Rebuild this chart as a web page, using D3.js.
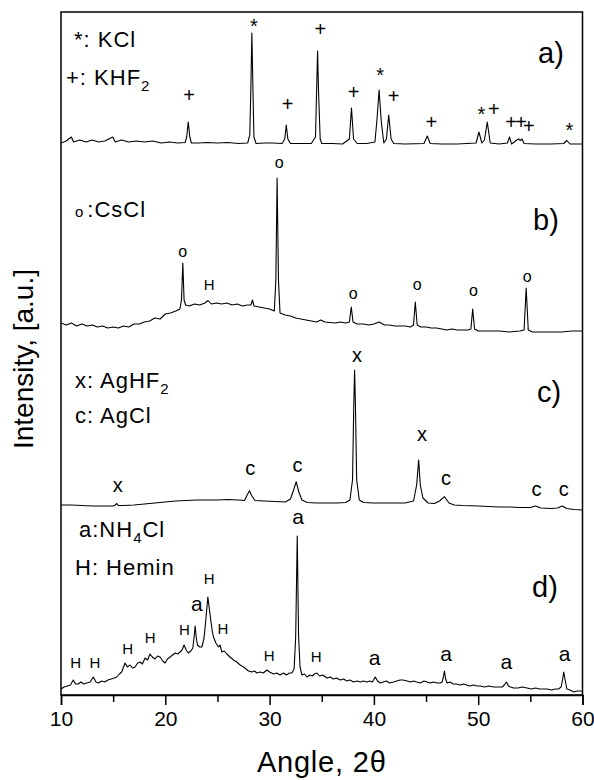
<!DOCTYPE html>
<html><head><meta charset="utf-8">
<script src="https://cdn.jsdelivr.net/npm/d3@7"></script>
<style>
body{margin:0;background:#fff}
text{font-family:"Liberation Sans",Arial,Helvetica,sans-serif;fill:#000}
</style>
</head><body>
<svg id="chart" width="594" height="780"></svg>
<script>
// ---------- data (angle 2θ, intensity a.u.) ----------
const xMajorTicks = [10, 20, 30, 40, 50, 60];
const xMinorTicks = [15, 25, 35, 45, 55];
const panelNames = ["a)", "b)", "c)", "d)"];
const panelOffsets = [548, 360, 180, 0];

const traceA = [[10,6],[10.5,8],[11,12],[11.2,7],[11.8,9],[12.4,7],[13,9],[13.6,7],[14.2,8],[14.96,12],[15.2,7],[15.8,9],[16.5,7],[17.2,8],[18,7],[18.8,8],[19.6,6],[20.4,7],[21.2,6],[21.9,6.5],[22.05,12],[22.2,27],[22.35,12],[22.5,6],[23.2,6],[24,6.5],[25,6],[26,6.5],[27,5.5],[27.9,6],[28.1,14],[28.2,60],[28.3,116],[28.4,60],[28.5,12],[28.7,5.5],[29.5,6],[30.3,6],[31.2,5.5],[31.45,10],[31.6,24],[31.75,10],[32,5.5],[33,5.5],[34,5.5],[34.4,12],[34.5,55],[34.6,98],[34.7,55],[34.85,10],[35,5.5],[36,5.5],[37,5],[37.65,10],[37.85,41],[38.05,10],[38.4,5.5],[39.3,5.5],[40.1,7],[40.3,30],[40.5,59],[40.7,28],[40.95,6],[41.2,10],[41.42,34],[41.65,10],[41.9,5.5],[43,5],[44.8,5.5],[45.12,13],[45.4,5.5],[46.5,5],[48,5],[49.8,6],[50.07,17],[50.35,6],[50.6,9],[50.87,27],[51.15,6],[52,5],[52.8,6],[53,12],[53.2,5],[53.7,9],[53.87,10],[54.05,8.5],[54.2,10],[54.4,5.5],[55.5,5],[57,5],[58.2,5.5],[58.5,8.5],[58.8,5],[60,5]];

const traceB = [[10,14],[10.5,12],[11,14],[11.5,11],[12,13],[12.5,11],[13,12],[13.5,10],[14,11],[14.5,9],[15,10],[15.5,9],[16,11],[16.5,10],[17,13],[17.5,13],[18,15],[18.5,16],[19,19],[19.5,18],[20,23],[20.5,24],[21,26],[21.4,28],[21.55,37],[21.68,74],[21.8,37],[21.95,32],[22.3,31],[22.8,33],[23.3,32],[23.8,34],[24.1,36.5],[24.4,33],[24.9,34],[25.4,33],[25.9,34],[26.4,32],[26.9,33],[27.4,31],[27.9,32],[28.2,32],[28.36,37],[28.5,31],[29,30],[29.5,29],[30,28],[30.45,26],[30.6,57],[30.72,159],[30.85,57],[31,24],[31.5,22],[32,21],[32.5,19],[33,18],[33.5,17],[34,16],[34.5,15],[34.9,17],[35.3,15],[35.8,14.5],[36.3,14],[36.8,15],[37.3,14],[37.65,15],[37.83,30],[38,15],[38.4,13],[39,13],[39.5,12],[40,13],[40.5,15],[41,12],[41.5,12],[42,11],[42.5,11],[43,11],[43.5,10],[43.8,12],[43.97,35],[44.15,12],[44.5,10],[45,10],[45.5,9],[46,9],[46.5,8],[47,7],[47.5,8],[48,7],[48.5,7],[49,7],[49.3,8],[49.47,28],[49.65,8],[50,6],[51,6],[52,6],[53,5],[54,6],[54.4,7],[54.6,49],[54.8,7],[55.2,5],[56,5],[57,5],[58,5],[59,6],[60,6]];

const traceC = [[10,12],[11,12],[12,11.5],[13,11],[14,11],[15,11],[15.2,12],[15.35,13.5],[15.5,11.5],[16,11.5],[17,12],[18,13],[19,14],[20,15],[21,16],[22,16.5],[23,17],[24,17],[25,17],[26,17.5],[27,17],[27.6,16.5],[27.85,22],[28.07,26.3],[28.3,21],[28.6,16.5],[29.5,16],[30.5,15.5],[31.5,15],[32,18],[32.3,27],[32.55,35.3],[32.8,25],[33.1,17],[33.6,14.5],[34.5,14],[35.5,14],[36.5,14],[37.3,14.5],[37.7,17],[37.95,37],[38.08,117],[38.15,147],[38.22,117],[38.35,37],[38.6,17],[39,14.5],[40,14],[41,14],[42,14],[43,14],[43.8,16],[44.1,32],[44.29,57],[44.45,32],[44.7,19],[45.2,14],[45.8,13.5],[46.3,16],[46.76,20.3],[47.2,14],[47.7,12],[48.5,11.5],[50,11],[51,10.5],[52,10],[53,10],[54,9.5],[55,9.5],[55.5,11],[56,9],[57,8.5],[57.6,9],[58.05,11],[58.5,8.5],[59.2,7.5],[60,7]];

const traceD = [[10,8],[10.3,10],[10.6,11],[10.9,12],[11.18,17],[11.4,13],[11.66,13],[11.9,15],[12.2,13],[12.46,14],[12.8,15],[13.1,20],[13.35,15],[13.58,14],[13.9,16],[14.2,15],[14.5,17],[14.8,18],[15.1,19],[15.35,20],[15.6,23],[15.82,25],[16,30],[16.14,34],[16.35,30],[16.62,32],[16.85,29],[17.1,30],[17.35,34],[17.58,35],[17.8,33],[18.06,39],[18.3,37],[18.54,43],[18.75,40],[19.02,38],[19.25,41],[19.5,40],[19.75,36],[19.98,34],[20.2,38],[20.46,40],[20.7,42],[20.94,44],[21.2,43],[21.42,45],[21.6,47],[21.8,52],[22,47],[22.22,44],[22.45,46],[22.64,49],[22.76,60],[22.86,71],[22.96,60],[23.08,52],[23.3,50],[23.5,50],[23.7,58],[23.82,70],[23.95,85],[24.08,100],[24.2,90],[24.36,77],[24.5,66],[24.62,60],[24.85,54],[25.1,50],[25.25,52],[25.42,45],[25.65,46],[25.9,43],[26.2,40],[26.54,37],[26.85,35],[27.18,32],[27.5,30],[27.75,28],[27.98,26],[28.3,25],[28.55,26],[28.78,24],[29.1,25],[29.4,24],[29.74,27],[30,25],[30.38,23],[30.7,24],[31,22],[31.34,24],[31.6,22],[31.9,24],[32.14,24],[32.35,28],[32.5,60],[32.65,161],[32.78,60],[32.92,30],[33.1,22],[33.35,23],[33.58,20],[33.85,22],[34.1,21],[34.3,23],[34.54,24],[34.8,21],[35.1,22],[35.5,19],[35.8,20],[36.1,18],[36.4,19],[36.78,17],[37.1,18],[37.4,16],[37.7,17],[38.05,15],[38.4,16],[38.7,15],[39,16],[39.34,15],[39.6,16],[39.85,15],[40.13,20],[40.35,16],[40.61,14],[40.9,15],[41.2,16],[41.5,14],[41.89,15],[42.2,16],[42.5,17],[42.8,17],[43.18,16],[43.5,15],[43.8,16],[44.1,15],[44.45,14],[44.8,16],[45.1,15],[45.4,14],[45.7,15],[46.06,14],[46.35,14],[46.54,15],[46.66,20],[46.76,26],[46.88,18],[47.02,14],[47.3,15],[47.6,13],[47.9,13],[48.29,12],[48.6,13],[48.9,12],[49.2,11],[49.55,12],[49.9,11],[50.2,11],[50.6,10],[51,11],[51.49,10],[51.9,10],[52.29,10],[52.5,12],[52.71,15],[52.9,11],[53.09,10],[53.4,9],[53.8,9],[54.2,10],[54.69,9],[55.1,8],[55.5,9],[55.9,8],[56.3,8],[56.61,8],[57,7],[57.4,8],[57.7,8],[57.95,10],[58.1,18],[58.2,25],[58.32,18],[58.5,8],[58.8,7],[59.17,5],[59.5,6],[59.97,6]];

// peak markers: [symbol, angle, intensity level]
const markersA = [["+",22.28,47.5],["*",28.5,116.5],["+",31.72,38.5],["+",34.86,113],["+",38.05,50],["*",40.61,67],["+",41.89,46],["+",45.51,20],["*",50.31,28],["+",51.49,33],["+",53.16,20],["+",54.12,20],["+",54.85,16],["*",58.75,11.6]];
const markersB = [["o",21.68,80],["H",24.2,46.7],["o",30.92,169],["o",38.02,38],["o",44.14,47],["o",49.54,41.3],["o",54.69,55.3]];
const markersC = [["x",15.44,25],["c",28.14,41.8],["c",32.68,45],["x",38.38,155],["x",44.62,75.8],["c",46.92,31.8],["c",55.59,21],["c",58.21,21]];
const markersD = [["H",11.41,29.3],["H",13.26,29.3],["H",16.4,42.6],["H",18.54,53.9],["H",21.83,62.3],["a",23.02,86.5],["H",24.2,112.6],["H",25.52,63.3],["H",29.96,35.6],["a",32.72,173.2],["H",34.47,34.6],["a",40.07,32.2],["a",46.92,36.5],["a",52.71,28.2],["a",58.28,36.5]];

const traces = [traceA, traceB, traceC, traceD];
const markers = [markersA, markersB, markersC, markersD];

// ---------- layout ----------
const L = 61, R = 582.5, T = 12, B = 695;
const svg = d3.select("#chart");
const x = d3.scaleLinear().domain([10, 60]).range([L, R]);
const y = d3.scaleLinear().domain([0, 685]).range([697, 12]);

svg.append("defs").append("clipPath").attr("id", "clip")
  .append("rect").attr("x", L).attr("y", T).attr("width", R - L).attr("height", B - T);

// traces
const plot = svg.append("g").attr("clip-path", "url(#clip)");
traces.forEach((tr, i) => {
  const off = panelOffsets[i];
  const line = d3.line().x(d => x(d[0])).y(d => y(d[1] + off));
  plot.append("path").datum(tr).attr("d", line)
    .attr("fill", "none").attr("stroke", "#000").attr("stroke-width", 1.1)
    .attr("stroke-linejoin", "round");
});

// markers
const markerSize = {"+": 20, "*": 20, "o": 16, "H": 15, "x": 20, "c": 20, "a": 21};
markers.forEach((ms, i) => {
  const off = panelOffsets[i];
  svg.append("g").selectAll("text").data(ms).join("text")
    .attr("x", d => x(d[1])).attr("y", d => y(d[2] + off))
    .attr("text-anchor", "middle")
    .attr("font-size", d => markerSize[d[0]])
    .text(d => d[0]);
});

// frame
svg.append("rect").attr("x", L).attr("y", T).attr("width", R - L).attr("height", B - T)
  .attr("fill", "none").attr("stroke", "#000").attr("stroke-width", 1.5);

// x axis
const ax = svg.append("g").attr("transform", `translate(0,${B})`)
  .call(d3.axisBottom(x).tickValues(xMajorTicks).tickSize(10).tickPadding(6).tickFormat(d3.format("d")));
ax.select(".domain").attr("stroke-width", 1.5);
ax.selectAll(".tick line").attr("stroke-width", 1.5);
ax.selectAll(".tick text").attr("font-size", 21).attr("font-family", "'Liberation Sans',Arial,sans-serif").attr("fill", "#000");
const axm = svg.append("g").attr("transform", `translate(0,${B})`)
  .call(d3.axisBottom(x).tickValues(xMinorTicks).tickSize(7).tickFormat(""));
axm.select(".domain").remove();
axm.selectAll(".tick line").attr("stroke-width", 1.5);

// axis titles
svg.append("text").attr("x", (L + R) / 2).attr("y", 772).attr("text-anchor", "middle")
  .attr("font-size", 29).attr("letter-spacing", 0.8).text("Angle, 2θ");
svg.append("text").attr("transform", "translate(33,359) rotate(-90)").attr("text-anchor", "middle")
  .attr("font-size", 28).text("Intensity, [a.u.]");

// panel labels
const panelPos = [[538, 63], [533, 230], [537, 402], [532, 597]];
panelNames.forEach((p, i) => {
  svg.append("text").attr("x", panelPos[i][0]).attr("y", panelPos[i][1]).attr("font-size", 29).text(p);
});

// legends
function legend(xp, yp, parts) {
  const t = svg.append("text").attr("x", xp).attr("y", yp).attr("font-size", 22).attr("letter-spacing", 1);
  parts.forEach(p => {
    const s = t.append("tspan").text(p.t);
    if (p.sub) s.attr("font-size", 15).attr("dy", 6);
    if (p.up) s.attr("dy", -6);
    if (p.small) s.attr("font-size", 15);
    if (p.dx) s.attr("dx", p.dx);
  });
}
legend(74, 47, [{t: "*: KCl"}]);
legend(66, 85, [{t: "+: KHF"}, {t: "2", sub: true}]);
legend(75, 217, [{t: "o", small: true}, {t: ":CsCl", dx: 3}]);
legend(75, 388, [{t: "x: AgHF"}, {t: "2", sub: true}]);
legend(75, 423, [{t: "c: AgCl"}]);
legend(79, 537, [{t: "a:NH"}, {t: "4", sub: true}, {t: "Cl", up: true}]);
legend(75, 575, [{t: "H: Hemin"}]);
</script>
</body></html>
